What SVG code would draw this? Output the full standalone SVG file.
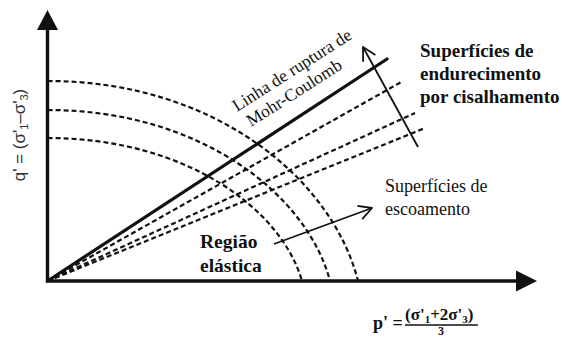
<svg xmlns="http://www.w3.org/2000/svg" width="562" height="338" viewBox="0 0 562 338">
<defs>
<style>
.axis{stroke:#111;stroke-width:3.4;fill:none}
.mc{stroke:#111;stroke-width:3.2;fill:none;stroke-linecap:round}
.dash{stroke:#111;stroke-width:2.2;fill:none;stroke-dasharray:5 3}
.arr{stroke:#111;stroke-width:1.8;fill:none}
.serif{font-family:'Liberation Serif','DejaVu Serif','Noto Serif',serif;fill:#111}
.bold{font-weight:bold}
.sans{font-family:'Liberation Sans','DejaVu Sans',sans-serif;fill:#333}
</style>
<marker id="open" viewBox="-15 -9 17 18" markerWidth="17" markerHeight="18" refX="0" refY="0" markerUnits="userSpaceOnUse" orient="auto">
<path d="M-13,-7 L0,0 L-13,7" fill="none" stroke="#111" stroke-width="1.8" stroke-linejoin="round"/>
</marker>
</defs>
<rect width="562" height="338" fill="#fff"/>
<g id="axes">
<path class="axis" d="M47.5,28 L47.5,281 L518,281"/>
<path d="M47.5,10 L58,30 L37,30 Z" fill="#111"/>
<path d="M537,281 L516,291.5 L516,270.5 Z" fill="#111"/>
</g>
<g id="yield-surfaces">
<path class="dash" d="M47.5,81 C217,81 333,181 358,281"/>
<path class="dash" d="M47.5,110 C201.8,110 307.4,195.5 330,281"/>
<path class="dash" d="M47.5,138 C186.5,138 281.6,209.5 302,281"/>
</g>
<g id="hardening-surfaces">
<path class="dash" d="M47.5,281 L403,81"/>
<path class="dash" d="M47.5,281 L415,113"/>
<path class="dash" d="M47.5,281 L425,128"/>
</g>
<g id="mohr-coulomb">
<path class="mc" d="M47.5,281 L387,59"/>
</g>
<g id="connectors">
<path class="arr" d="M418,147 L363,47" marker-end="url(#open)"/>
<path class="arr" d="M274,244 L372,208" marker-end="url(#open)"/>
</g>
<g id="label-mc">
<text class="serif" font-size="17.5" transform="rotate(-32.5 237 112)" x="237" y="112">Linha de ruptura de</text>
<text class="serif" font-size="17.5" transform="rotate(-32.5 251 127)" x="251" y="127">Mohr-Coulomb</text>
</g>
<g id="label-hardening">
<text class="serif bold" font-size="19" x="420" y="57">Superfícies de</text>
<text class="serif bold" font-size="19" x="420" y="80">endurecimento</text>
<text class="serif bold" font-size="19" x="420" y="103">por cisalhamento</text>
</g>
<g id="label-yield">
<text class="serif" font-size="18" x="385" y="192">Superfícies de</text>
<text class="serif" font-size="18" x="385" y="215">escoamento</text>
</g>
<g id="label-elastic">
<text class="serif bold" font-size="19.5" x="200" y="248">Região</text>
<text class="serif bold" font-size="19.5" x="200" y="272">elástica</text>
</g>
<g id="label-q">
<text class="sans" font-size="17" text-anchor="middle" transform="rotate(-90 25 135)" x="25" y="135">q' = (σ'<tspan font-size="11" dy="3">1</tspan><tspan dy="-3">–σ'</tspan><tspan font-size="11" dy="3">3</tspan><tspan dy="-3">)</tspan></text>
</g>
<g id="label-p">
<text class="serif bold" font-size="18" x="373" y="329">p' =</text>
<text class="serif bold" font-size="17" x="405" y="320">(σ'<tspan font-size="11" dy="3">1</tspan><tspan dy="-3">+2σ'</tspan><tspan font-size="11" dy="3">3</tspan><tspan dy="-3">)</tspan></text>
<line x1="405" y1="325" x2="478" y2="325" stroke="#111" stroke-width="1.5"/>
<text class="serif bold" font-size="12" text-anchor="middle" x="441" y="335">3</text>
</g>
</svg>
